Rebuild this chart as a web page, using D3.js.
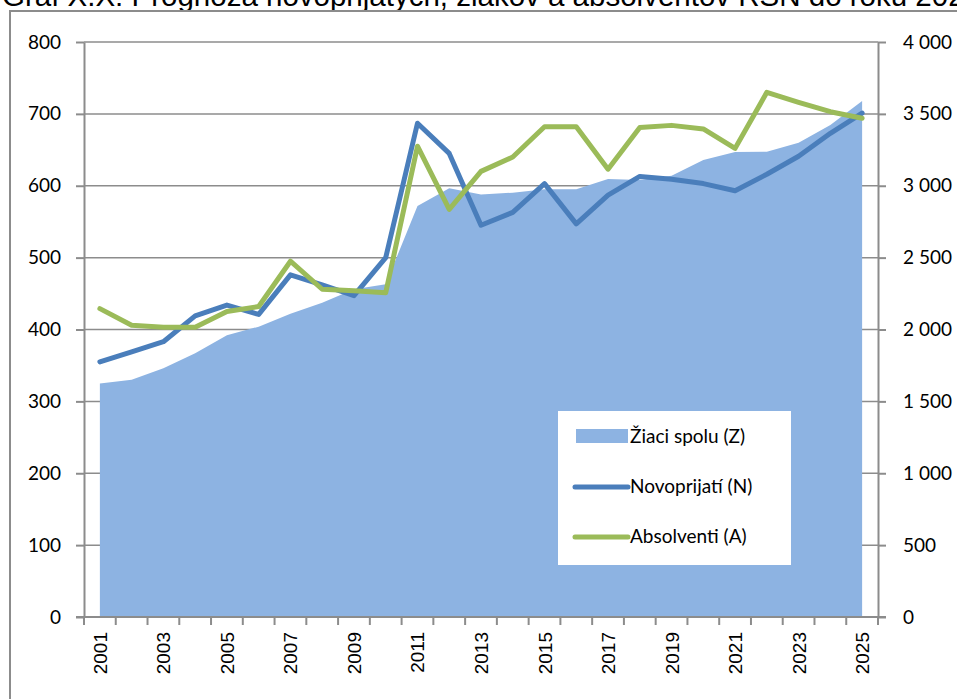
<!DOCTYPE html>
<html>
<head>
<meta charset="utf-8">
<script src="https://cdn.jsdelivr.net/npm/d3@7"></script>
<style>
  body { margin: 0; background: #fff; }
  svg { display: block; }
</style>
</head>
<body>
<div id="chart"></div>
<script>
// years on the x axis
var years = d3.range(2001, 2026).map(String);
// Žiaci spolu (right axis)
var ziaci = [1625, 1650, 1730, 1835, 1960, 2020, 2110, 2186, 2280, 2315, 2859, 2982, 2940, 2952, 2975,
             2975, 3047, 3040, 3070, 3179, 3235, 3237, 3300, 3422, 3590];
// Novoprijatí (left axis)
var novo = [355, 369, 383, 419, 434, 421, 476, 462, 447, 500, 687, 645, 545, 563, 603,
            547, 587, 613, 609, 603, 593, 616, 641, 673, 701];
// Absolventi (left axis)
var absol = [429, 406, 403, 403, 425, 432, 495, 456, 454, 451, 655, 567, 620, 640, 682,
             682, 623, 681, 684, 679, 652, 730, 716, 703, 694];
var leftTicks = [0, 100, 200, 300, 400, 500, 600, 700, 800];
var rightTicks = [0, 500, 1000, 1500, 2000, 2500, 3000, 3500, 4000];
var legendNames = ["Žiaci spolu (Z)", "Novoprijatí (N)", "Absolventi (A)"];

var width = 957, height = 699;
var plotL = 84, plotR = 878, plotT = 42, plotB = 617;

var svg = d3.select("#chart").append("svg")
    .attr("width", width)
    .attr("height", height);

// title, cut at the top like in the source
svg.append("text")
    .attr("x", 2)
    .attr("y", 6)
    .style("font-family", "Liberation Sans, Arial, sans-serif")
    .style("font-size", "29.5px")
    .text("Graf X.X: Prognóza novoprijatých, žiakov a absolventov RŠN do roku 2025");

// chart frame
svg.append("rect")
    .attr("x", 10).attr("y", 11)
    .attr("width", 960).attr("height", 700)
    .attr("fill", "none")
    .attr("stroke", "#8c8c8c")
    .attr("stroke-width", 2);

var x = d3.scaleBand().domain(years).range([plotL, plotR]).padding(0);
var yL = d3.scaleLinear().domain([0, 800]).range([plotB, plotT]);
var yR = d3.scaleLinear().domain([0, 4000]).range([plotB, plotT]);
var cx = function(d, i) { return x(years[i]) + x.bandwidth() / 2; };

// gridlines
svg.append("g")
    .selectAll("line")
    .data(leftTicks)
    .enter()
    .append("line")
    .attr("x1", plotL).attr("x2", plotR)
    .attr("y1", d => yL(d)).attr("y2", d => yL(d))
    .attr("stroke", "#8c8c8c")
    .attr("stroke-width", 1.5);

// area for Žiaci spolu
var area = d3.area()
    .x(cx)
    .y0(plotB)
    .y1(d => yR(d));
svg.append("path")
    .datum(ziaci)
    .attr("d", area)
    .attr("fill", "#8db3e2");

var lineL = d3.line().x(cx).y(d => yL(d));

svg.append("path")
    .datum(novo)
    .attr("d", lineL)
    .attr("fill", "none")
    .attr("stroke", "#4a7ebb")
    .attr("stroke-width", 5)
    .attr("stroke-linejoin", "round")
    .attr("stroke-linecap", "round");

svg.append("path")
    .datum(absol)
    .attr("d", lineL)
    .attr("fill", "none")
    .attr("stroke", "#9bbb59")
    .attr("stroke-width", 5)
    .attr("stroke-linejoin", "round")
    .attr("stroke-linecap", "round");

// axes
var leftAxis = d3.axisLeft(yL).tickValues(leftTicks).tickSize(8).tickSizeOuter(0).tickPadding(15);
var gL = svg.append("g")
    .attr("transform", "translate(" + plotL + ",0)")
    .call(leftAxis);

var rightAxis = d3.axisRight(yR).tickValues(rightTicks).tickSize(8).tickSizeOuter(0).tickPadding(17)
    .tickFormat(d => d3.format(",")(d).replace(",", " "));
var gR = svg.append("g")
    .attr("transform", "translate(" + plotR + ",0)")
    .call(rightAxis);

[gL, gR].forEach(function(g) {
    g.select(".domain").attr("stroke", "#8c8c8c").attr("stroke-width", 2);
    g.selectAll(".tick line").attr("stroke", "#8c8c8c").attr("stroke-width", 2);
    g.selectAll(".tick text")
        .style("font-family", "Lato, sans-serif")
        .style("font-size", "19px")
        .attr("fill", "#000");
});

// bottom axis: ticks between the categories
var gB = svg.append("g").attr("transform", "translate(0," + plotB + ")");
gB.append("line")
    .attr("x1", plotL - 8).attr("x2", plotR + 8)
    .attr("stroke", "#8c8c8c").attr("stroke-width", 2);
gB.selectAll(".tk")
    .data(years.concat(["end"]))
    .enter()
    .append("line")
    .attr("class", "tk")
    .attr("x1", (d, i) => plotL + i * x.bandwidth())
    .attr("x2", (d, i) => plotL + i * x.bandwidth())
    .attr("y1", 0).attr("y2", 8)
    .attr("stroke", "#8c8c8c").attr("stroke-width", 2);
gB.selectAll(".yl")
    .data(years.filter((d, i) => i % 2 === 0))
    .enter()
    .append("text")
    .attr("class", "yl")
    .attr("transform", d => "translate(" + (x(d) + x.bandwidth() / 2 + 7) + ",15) rotate(-90)")
    .attr("text-anchor", "end")
    .style("font-family", "Liberation Sans, Arial, sans-serif")
    .style("font-size", "19px")
    .text(d => d);

// legend
var lg = svg.append("g").attr("transform", "translate(558,411)");
lg.append("rect")
    .attr("width", 233).attr("height", 154)
    .attr("fill", "#fff");
lg.append("rect")
    .attr("x", 18).attr("y", 18)
    .attr("width", 52).attr("height", 14)
    .attr("fill", "#8db3e2");
lg.append("line")
    .attr("x1", 17).attr("x2", 70).attr("y1", 76).attr("y2", 76)
    .attr("stroke", "#4a7ebb").attr("stroke-width", 5).attr("stroke-linecap", "round");
lg.append("line")
    .attr("x1", 17).attr("x2", 70).attr("y1", 126).attr("y2", 126)
    .attr("stroke", "#9bbb59").attr("stroke-width", 5).attr("stroke-linecap", "round");
lg.selectAll(".lt")
    .data(legendNames)
    .enter()
    .append("text")
    .attr("class", "lt")
    .attr("x", 72)
    .attr("y", (d, i) => 32 + i * 50)
    .style("font-family", "Lato, sans-serif")
    .style("font-size", "19px")
    .text(d => d);
</script>
</body>
</html>
